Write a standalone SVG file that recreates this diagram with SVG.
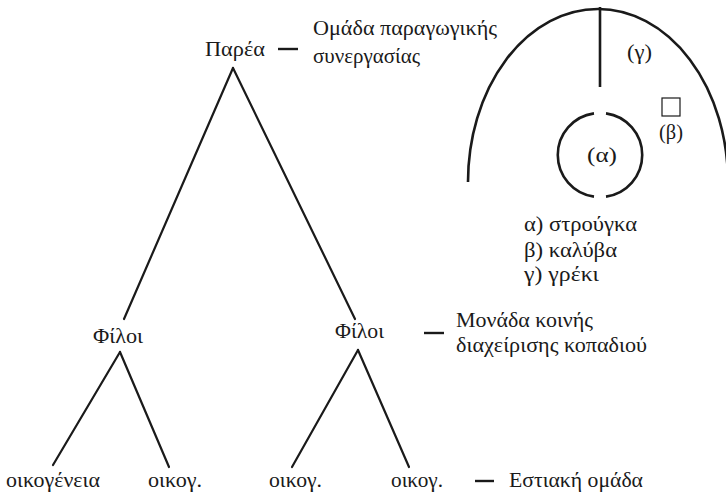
<svg xmlns="http://www.w3.org/2000/svg" width="726" height="498" viewBox="0 0 726 498">
<style>
  text { font-family: "Liberation Serif", "DejaVu Serif", serif; font-size: 20px; fill: #1a1a1a; }
  .ln { stroke: #1a1a1a; stroke-width: 2.2; fill: none; stroke-linecap: round; }
  .arc { stroke: #1a1a1a; stroke-width: 2.6; fill: none; }
  .dash { stroke: #1a1a1a; stroke-width: 2.4; }
</style>
<rect width="726" height="498" fill="#ffffff"/>
<g id="connectors">
  <line class="ln" x1="233" y1="68" x2="124" y2="319"/>
  <line class="ln" x1="233" y1="68" x2="355" y2="319"/>
  <line class="ln" x1="120" y1="352" x2="53" y2="465"/>
  <line class="ln" x1="120" y1="352" x2="169" y2="467"/>
  <line class="ln" x1="358" y1="350" x2="292" y2="467"/>
  <line class="ln" x1="358" y1="350" x2="409" y2="467"/>
</g>
<g id="node-parea">
  <text x="205" y="56" textLength="60" lengthAdjust="spacingAndGlyphs">Παρέα</text>
  <line class="dash" x1="278" y1="49" x2="298" y2="49"/>
  <text x="313" y="35" textLength="184" lengthAdjust="spacingAndGlyphs">Ομάδα παραγωγικής</text>
  <text x="313" y="63" textLength="107" lengthAdjust="spacingAndGlyphs">συνεργασίας</text>
</g>
<g id="node-filoi-left">
  <text x="93" y="343" textLength="50" lengthAdjust="spacingAndGlyphs">Φίλοι</text>
</g>
<g id="node-filoi-right">
  <text x="335" y="338" textLength="49" lengthAdjust="spacingAndGlyphs">Φίλοι</text>
  <line class="dash" x1="424" y1="333" x2="444" y2="333"/>
  <text x="456" y="327" textLength="137" lengthAdjust="spacingAndGlyphs">Μονάδα κοινής</text>
  <text x="456" y="352" textLength="191" lengthAdjust="spacingAndGlyphs">διαχείρισης κοπαδιού</text>
</g>
<g id="node-oik1">
  <text x="6" y="487" textLength="94" lengthAdjust="spacingAndGlyphs">οικογένεια</text>
</g>
<g id="node-oik2">
  <text x="148" y="487" textLength="54" lengthAdjust="spacingAndGlyphs">οικογ.</text>
</g>
<g id="node-oik3">
  <text x="269" y="487" textLength="53" lengthAdjust="spacingAndGlyphs">οικογ.</text>
</g>
<g id="node-oik4">
  <text x="391" y="487" textLength="52" lengthAdjust="spacingAndGlyphs">οικογ.</text>
  <line class="dash" x1="475" y1="481" x2="494" y2="481"/>
  <text x="509" y="487" textLength="134" lengthAdjust="spacingAndGlyphs">Εστιακή ομάδα</text>
</g>
<g id="plan">
  <path class="arc" d="M468,182 A130,173 0 0 1 728,182"/>
  <line class="arc" x1="600" y1="7" x2="600" y2="87"/>
  <path class="arc" d="M594,113.4 A42,42 0 0 0 594,196.6"/>
  <path class="arc" d="M606,113.4 A42,42 0 0 1 606,196.6"/>
  <rect x="662" y="98" width="18" height="18" fill="none" stroke="#1a1a1a" stroke-width="1.2"/>
  <text x="627" y="59" textLength="25" lengthAdjust="spacingAndGlyphs">(γ)</text>
  <text x="659" y="139" textLength="24" lengthAdjust="spacingAndGlyphs">(β)</text>
  <text x="587" y="162" textLength="30" lengthAdjust="spacingAndGlyphs">(α)</text>
  <text x="524" y="231" textLength="113" lengthAdjust="spacingAndGlyphs">α) στρούγκα</text>
  <text x="524" y="257" textLength="93" lengthAdjust="spacingAndGlyphs">β) καλύβα</text>
  <text x="524" y="281" textLength="75" lengthAdjust="spacingAndGlyphs">γ) γρέκι</text>
</g>
</svg>
